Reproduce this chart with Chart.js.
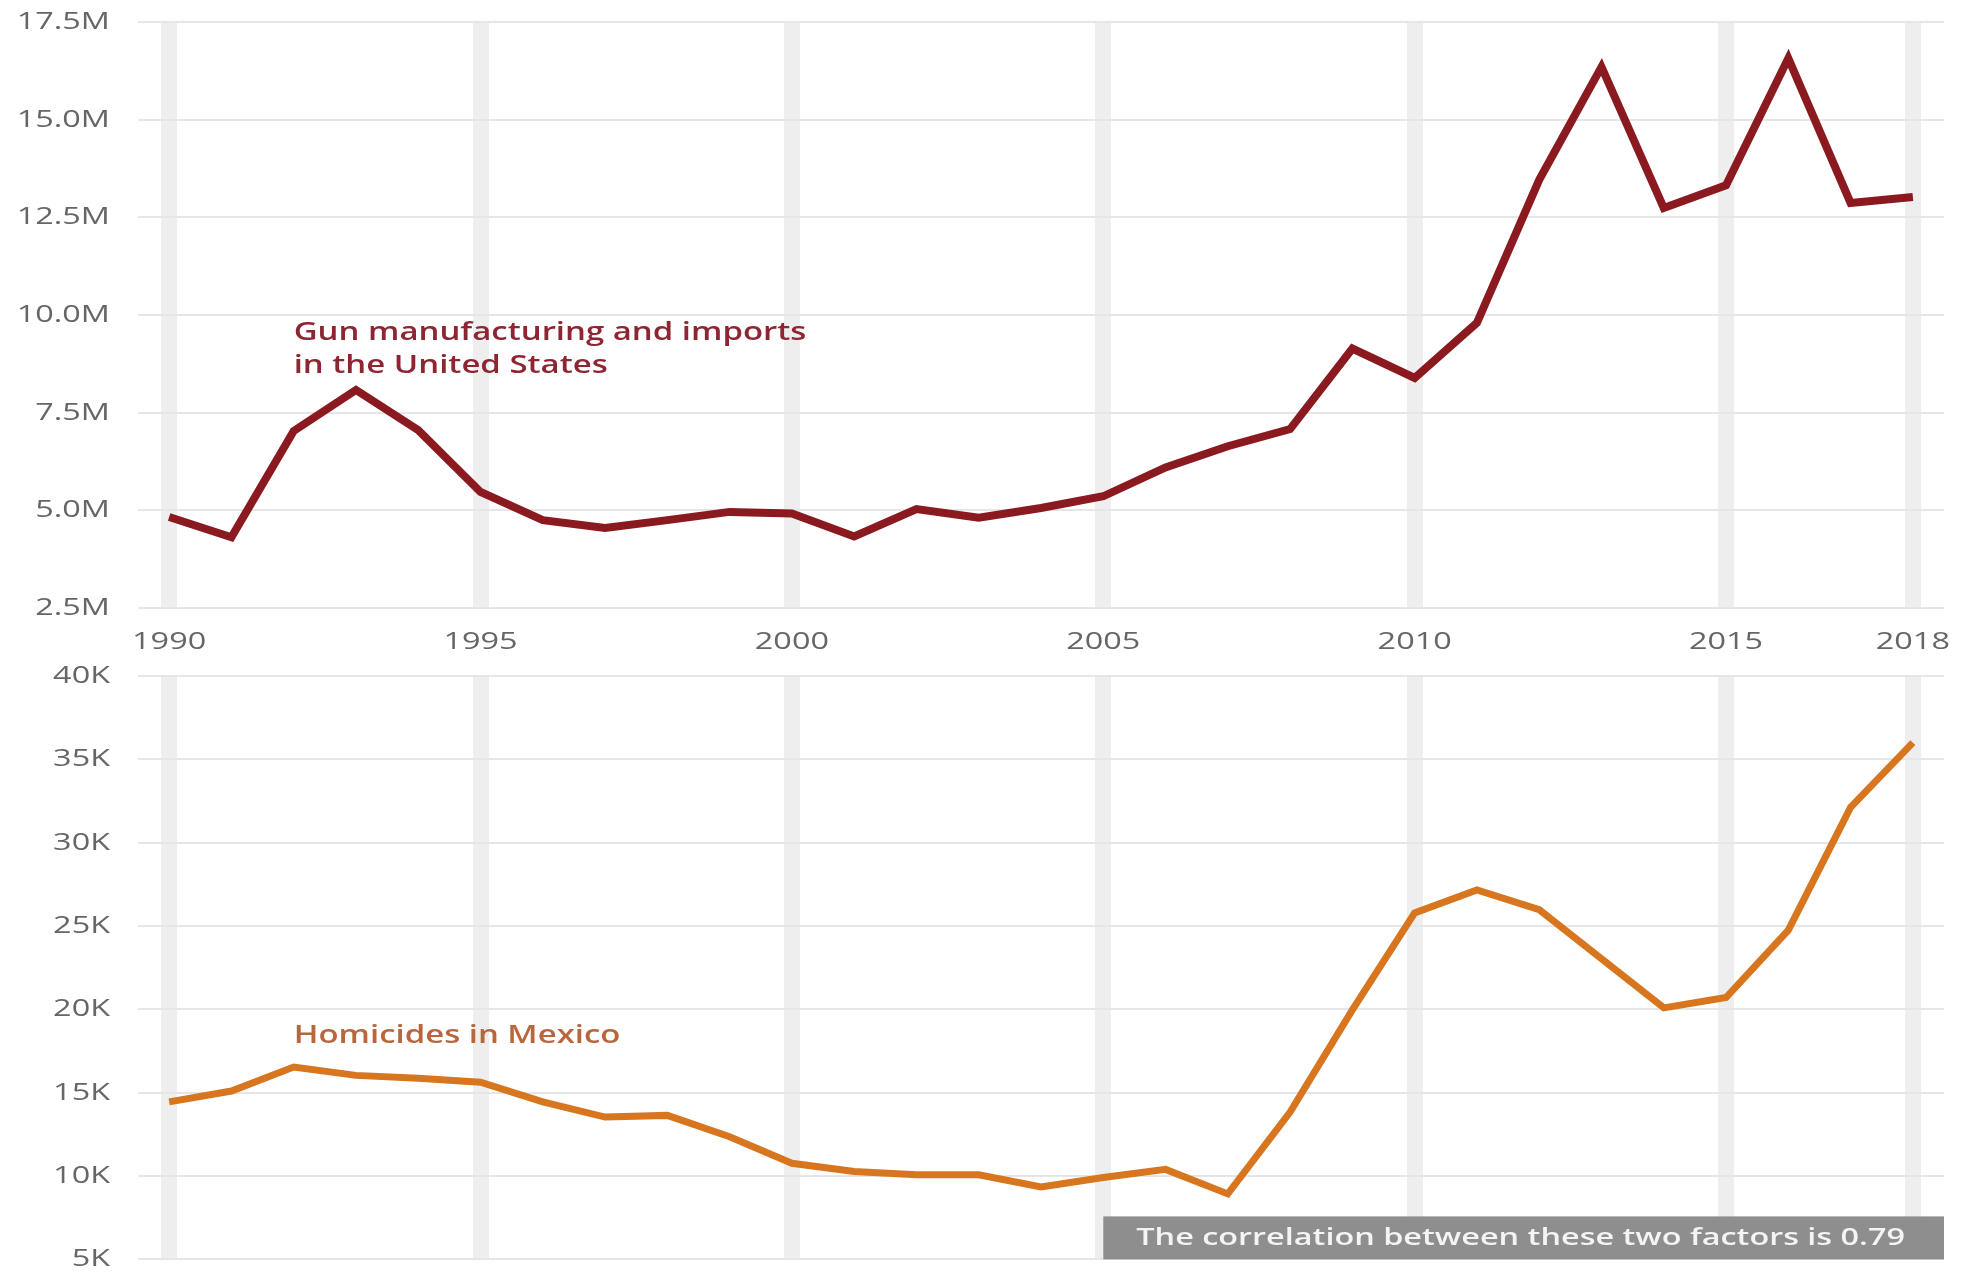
<!DOCTYPE html>
<html>
<head>
<meta charset="utf-8">
<title>Guns and homicides</title>
<script src="https://cdn.jsdelivr.net/npm/chart.js@4/dist/chart.umd.min.js"></script>
<style>
  html, body { margin: 0; padding: 0; background: #fff; }
  .panel { position: absolute; left: 0; width: 1973px; }
  #top { top: 0; height: 668px; }
  #bottom { top: 666px; height: 615px; }
</style>
</head>
<body>
<div class="panel" id="top"><canvas id="gunsChart"></canvas></div>
<div class="panel" id="bottom"><canvas id="homicidesChart"></canvas></div>
<script>
// ===============================
// Data
// ===============================
const years = [
  "1990", "1991", "1992", "1993", "1994", "1995", "1996", "1997", "1998", "1999",
  "2000", "2001", "2002", "2003", "2004", "2005", "2006", "2007", "2008", "2009",
  "2010", "2011", "2012", "2013", "2014", "2015", "2016", "2017", "2018"
];
const yearTicks = ["1990", "1995", "2000", "2005", "2010", "2015", "2018"];

// firearms manufactured + imported in the US, millions
const gunsMillions = [
  4.83, 4.31, 7.03, 8.08, 7.05, 5.47, 4.75, 4.55, 4.75, 4.96,
  4.92, 4.33, 5.03, 4.81, 5.06, 5.36, 6.10, 6.64, 7.08, 9.14,
  8.39, 9.80, 13.46, 16.35, 12.74, 13.32, 16.57, 12.87, 13.02
];

// homicides in Mexico, thousands
const homicidesThousands = [
  14.45, 15.10, 16.54, 16.04, 15.87, 15.63, 14.45, 13.54, 13.64, 12.36,
  10.77, 10.28, 10.08, 10.08, 9.35, 9.91, 10.40, 8.93, 13.84, 19.97,
  25.79, 27.16, 25.98, 23.04, 20.09, 20.71, 24.75, 32.12, 36.00
];

const gunsLabel = ["Gun manufacturing and imports", "in the United States"];
const homicidesLabel = ["Homicides in Mexico"];
const correlationNote = "The correlation between these two factors is 0.79";

// ===============================
// Shared styling
// ===============================
const FONT = "'Open Sans', sans-serif";
const TEXT_STRETCH = 1.35;
const GUN_RED = "#8b1a20";
const MEX_ORANGE = "#d8761f";

// wide lettering: every fillText gets a horizontal stretch around its anchor
const stretchText = {
  id: "stretchText",
  beforeDraw(chart) {
    const ctx = chart.ctx;
    if (ctx._stretched) return;
    const fill = ctx.fillText.bind(ctx);
    ctx.fillText = function (text, x, y) {
      ctx.save();
      ctx.translate(x, y);
      ctx.scale(TEXT_STRETCH, 1);
      fill(text, 0, 0);
      ctx.restore();
    };
    ctx._stretched = true;
  }
};

// layout padding alone decides the plot box
function noLabelPadding(s) {
  s.paddingTop = 0;
  s.paddingBottom = 0;
  s.paddingLeft = 0;
  s.paddingRight = 0;
}

function xScale(showLabels) {
  return {
    type: "category",
    offset: true,
    border: { display: false },
    grid: {
      offset: false,
      drawTicks: false,
      lineWidth: 16,
      color: c => yearTicks.includes(years[c.index]) ? "#eeeeee" : "rgba(0,0,0,0)"
    },
    ticks: {
      display: showLabels,
      autoSkip: false,
      maxRotation: 0,
      padding: 20,
      color: "#666",
      font: { family: FONT, size: 24 },
      callback: (v, i) => yearTicks.includes(years[i]) ? years[i] : ""
    },
    afterFit: s => {
      s.height = showLabels ? 60 : 0;
      noLabelPadding(s);
    }
  };
}

function yScale(min, max, step, fmt) {
  return {
    min, max,
    border: { display: false },
    grid: { drawTicks: false, color: "#e6e6e6", lineWidth: 2 },
    ticks: {
      stepSize: step,
      padding: 28,
      color: "#666",
      font: { family: FONT, size: 24 },
      callback: fmt
    },
    afterFit: s => {
      s.width = 138;
      noLabelPadding(s);
    }
  };
}

function seriesLabel(lines, year, value, color) {
  return {
    id: "seriesLabel",
    afterDatasetsDraw(chart) {
      const { ctx, scales } = chart;
      const x = scales.x.getPixelForValue(years.indexOf(year));
      const y = scales.y.getPixelForValue(value);
      ctx.save();
      ctx.font = "600 24.4px " + FONT;
      ctx.fillStyle = color;
      ctx.textAlign = "left";
      ctx.textBaseline = "middle";
      lines.forEach((t, i) => ctx.fillText(t, x, y + i * 33));
      ctx.restore();
    }
  };
}

// ===============================
// US guns
// ===============================
new Chart(document.getElementById("gunsChart"), {
  type: "line",
  data: {
    labels: years,
    datasets: [{
      data: gunsMillions,
      borderColor: GUN_RED,
      borderWidth: 8,
      pointRadius: 0,
      tension: 0
    }]
  },
  options: {
    responsive: true,
    maintainAspectRatio: false,
    animation: false,
    layout: { padding: { left: 0, right: 29, top: 22, bottom: 0 } },
    plugins: { legend: { display: false }, tooltip: { enabled: false } },
    scales: {
      x: xScale(true),
      y: yScale(2.5, 17.5, 2.5, v => v.toFixed(1) + "M")
    }
  },
  plugins: [stretchText, seriesLabel(gunsLabel, "1992", 9.55, "#8e2532")]
});

// ===============================
// Mexico homicides
// ===============================
const correlationBox = {
  id: "correlationBox",
  afterDraw(chart) {
    const { ctx, chartArea, scales } = chart;
    const x0 = scales.x.getPixelForValue(years.indexOf("2005"));
    const h = 43;
    ctx.save();
    ctx.fillStyle = "#8e8e8e";
    ctx.fillRect(x0, chartArea.bottom - h, chartArea.right - x0, h);
    ctx.font = "600 24px " + FONT;
    ctx.fillStyle = "#f4f4f4";
    ctx.textAlign = "left";
    ctx.textBaseline = "middle";
    ctx.fillText(correlationNote, x0 + 33, chartArea.bottom - h / 2);
    ctx.restore();
  }
};

new Chart(document.getElementById("homicidesChart"), {
  type: "line",
  data: {
    labels: years,
    datasets: [{
      data: homicidesThousands,
      borderColor: MEX_ORANGE,
      borderWidth: 7,
      pointRadius: 0,
      tension: 0
    }]
  },
  options: {
    responsive: true,
    maintainAspectRatio: false,
    animation: false,
    layout: { padding: { left: 0, right: 29, top: 10, bottom: 21.6 } },
    plugins: { legend: { display: false }, tooltip: { enabled: false } },
    scales: {
      x: xScale(false),
      y: yScale(5, 40, 5, v => v + "K")
    }
  },
  plugins: [stretchText, seriesLabel(homicidesLabel, "1992", 18.4, "#b8673c"), correlationBox]
});
</script>
</body>
</html>
